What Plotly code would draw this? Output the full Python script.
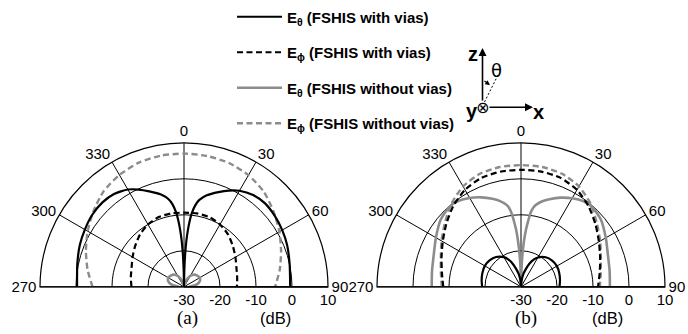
import plotly.graph_objects as go

W, H = 688, 334

# ---------------- pattern data (angle in deg, level in dB) ----------------
# (a) panel
theta_a_eth_v = [-90, -78, -68, -60, -52, -44, -37, -30, -25, -20, -14, -10, -8, -6, -5, -4, -3, -2, -1,
                 0, 1, 2, 3, 4, 5, 6, 8, 10, 14, 20, 25, 30, 37, 44, 52, 60, 68, 78, 90]
db_a_eth_v = [-0.3, 0.3, 1.2, 1.8, 2.4, 2.6, 2.3, 1.2, -0.2, -1.8, -3.6, -5.3, -6.8, -9.3, -11.3, -13.8, -16.8, -20.8, -25.8,
              -30, -26, -21, -17, -14, -11.5, -9.5, -7, -5.5, -3.8, -2.0, -0.5, 0.8, 1.9, 2.3, 2.0, 1.5, 0.9, 0.0, -0.5]

theta_a_eph_v = [-90, -80, -70, -60, -50, -40, -30, -20, -10, 0, 10, 20, 30, 40, 50, 60, 70, 80, 90]
db_a_eph_v = [-15.4, -15.0, -14.5, -13.5, -12.3, -11.0, -10.0, -9.4, -9.3, -9.4,
              -9.3, -9.4, -10.0, -11.0, -12.3, -13.5, -14.5, -15.0, -15.3]

theta_a_eth_nv = [-90, -80, -70, -60, -50, -40, -30, -20, -10, 0, 10, 20, 30, 40, 50, 60, 70, 80, 90]
db_a_eth_nv = [-28.5, -26.5, -25.3, -25.0, -25.2, -25.6, -26.5, -28.0, -30, -30,
               -30, -28.0, -26.5, -25.6, -25.2, -25.0, -25.3, -26.5, -28.5]

theta_a_eph_nv = [-90, -80, -70, -60, -50, -40, -30, -20, -10, 0, 10, 20, 30, 40, 50, 60, 70, 80, 90]
db_a_eph_nv = [-4.6, -2.8, -1.0, 0.9, 2.8, 4.7, 5.9, 6.7, 7.0, 7.0,
               6.9, 6.6, 5.8, 4.5, 2.5, 0.6, -1.3, -3.0, -4.7]

# (b) panel
theta_b_eth_v = [-90, -80, -70, -60, -50, -40, -30, -25, -20, -15, -10, -5, 0,
                 5, 10, 15, 20, 25, 30, 40, 50, 60, 70, 80, 90]
db_b_eth_v = [-19.2, -18.9, -18.6, -18.4, -18.6, -19.2, -20.5, -21.6, -23.1, -24.9, -26.4, -28.4, -30,
              -28.5, -26.5, -25.0, -23.2, -21.7, -20.6, -19.3, -18.7, -18.5, -18.7, -19.0, -19.3]

theta_b_eth_nv = [-90, -80, -70, -60, -50, -42, -36, -30, -24, -18, -14, -10, -8, -7, -6, -5, -4, -3, -2, -1,
                  0, 1, 2, 3, 4, 5, 6, 7, 8, 10, 14, 18, 24, 30, 36, 42, 50, 60, 70, 80, 90]
db_b_eth_nv = [-5.2, -4.9, -4.2, -2.7, -0.9, -0.2, -0.5, -1.5, -2.8, -4.3, -5.4, -6.9, -8.4, -9.9, -11.9, -13.9, -16.4, -19.4, -22.9, -26.9,
               -30, -27, -23, -19.5, -16.5, -14, -12, -10, -8.5, -7, -5.5, -4.4, -2.9, -1.6, -0.6, -0.3, -1.0, -2.8, -4.3, -5.0, -5.3]

theta_b_eph_v = [-90, -80, -70, -60, -50, -40, -30, -20, -10, 0, 10, 20, 30, 40, 50, 60, 70, 80, 90]
db_b_eph_v = [-8.4, -7.7, -6.5, -4.9, -2.9, -0.7, 1.1, 2.2, 2.5, 2.5,
              2.5, 2.2, 1.1, -0.8, -3.0, -5.0, -6.6, -7.8, -8.6]

theta_b_eph_nv = [-90, -80, -70, -60, -50, -40, -30, -20, -10, 0, 10, 20, 30, 40, 50, 60, 70, 80, 90]
db_b_eph_nv = [-8.0, -7.4, -6.3, -4.5, -2.4, 0.1, 2.2, 3.4, 3.8, 3.8,
               3.8, 3.4, 2.2, 0.1, -2.5, -4.6, -6.4, -7.5, -8.1]

radial_ticks = [-30, -20, -10, 0, 10]
radial_text = ["-30", "-20", "-10", "0", "10"]
angle_ticks = [-90, -60, -30, 0, 30, 60, 90]
angle_text = ["270", "300", "330", "0", "30", "60", "90"]

legend_names = ["E<sub>θ</sub> (FSHIS with vias)",
                "E<sub>ϕ</sub> (FSHIS with vias)",
                "E<sub>θ</sub> (FSHIS without vias)",
                "E<sub>ϕ</sub> (FSHIS without vias)"]

BLACK = "#000000"
GREY = "#8c8c8c"
DASH = "6px,3.5px"
styles = [dict(color=BLACK, width=2.2, dash="solid"),
          dict(color=BLACK, width=2.2, dash=DASH),
          dict(color=GREY, width=2.6, dash="solid"),
          dict(color=GREY, width=2.4, dash=DASH)]

panels = {
    "polar": [(theta_a_eth_v, db_a_eth_v), (theta_a_eph_v, db_a_eph_v),
              (theta_a_eth_nv, db_a_eth_nv), (theta_a_eph_nv, db_a_eph_nv)],
    "polar2": [(theta_b_eth_v, db_b_eth_v), (theta_b_eph_v, db_b_eph_v),
               (theta_b_eth_nv, db_b_eth_nv), (theta_b_eph_nv, db_b_eph_nv)],
}

fig = go.Figure()
# draw order: grey curves beneath black ones
order = [3, 2, 1, 0]
for sub, series in panels.items():
    for k in order:
        th, r = series[k]
        fig.add_trace(go.Scatterpolar(
            r=r, theta=th, mode="lines", subplot=sub,
            line=dict(color=styles[k]["color"], width=styles[k]["width"],
                      dash=styles[k]["dash"], shape="spline", smoothing=0.6),
            name=legend_names[k], legendgroup=f"g{k}", legendrank=k + 1,
            showlegend=(sub == "polar"), hoverinfo="skip"))

# ---------------- layout ----------------
R = 144.0
BASE_Y = 286.8
centers = {"polar": 184.0, "polar2": 521.0}
FONT = "Liberation Sans, Arial, sans-serif"


def polar_layout(cx):
    dom_x = [(cx - R) / W, (cx + R) / W]
    dom_y = [(H - BASE_Y) / H, (H - BASE_Y + R) / H]
    return dict(
        domain=dict(x=dom_x, y=dom_y),
        sector=[0, 180],
        bgcolor="white",
        angularaxis=dict(rotation=90, direction="clockwise",
                         tickmode="array", tickvals=angle_ticks, ticktext=angle_text,
                         showline=True, linecolor=BLACK, linewidth=1.2,
                         showgrid=True, gridcolor=BLACK, gridwidth=1,
                         ticks="", tickfont=dict(family=FONT, size=15, color=BLACK)),
        radialaxis=dict(range=[-30, 10], angle=0, side="clockwise",
                        tickmode="array", tickvals=radial_ticks, ticktext=radial_text,
                        showline=True, linecolor=BLACK, linewidth=1.2,
                        showgrid=True, gridcolor=BLACK, gridwidth=1,
                        ticks="", tickfont=dict(family=FONT, size=15, color=BLACK)),
    )


def px(x):
    return x / W


def py(y):
    return 1 - y / H


SERIF = "Liberation Serif, Times New Roman, serif"
annotations = [
    dict(x=px(187), y=py(318), text="(a)", font=dict(family=SERIF, size=19)),
    dict(x=px(526), y=py(318), text="(b)", font=dict(family=SERIF, size=19)),
    dict(x=px(275), y=py(318), text="(dB)", font=dict(family=FONT, size=16.5)),
    dict(x=px(607), y=py(318), text="(dB)", font=dict(family=FONT, size=16.5)),
    # coordinate sketch
    dict(x=px(482.5), y=py(48), ax=0, ay=54, text="", showarrow=True,
         arrowhead=2, arrowsize=1, arrowwidth=1.6, arrowcolor=BLACK),
    dict(x=px(533), y=py(107.3), ax=-45, ay=0, text="", showarrow=True,
         arrowhead=2, arrowsize=1, arrowwidth=1.6, arrowcolor=BLACK),
    dict(x=px(490), y=py(85), ax=-7, ay=-5, text="", showarrow=True,
         arrowhead=2, arrowsize=0.8, arrowwidth=1.2, arrowcolor=BLACK),
    dict(x=px(473.5), y=py(54), text="<b>z</b>", font=dict(family=FONT, size=20)),
    dict(x=px(471.5), y=py(111), text="<b>y</b>", font=dict(family=FONT, size=20)),
    dict(x=px(538), y=py(112), text="<b>x</b>", font=dict(family=FONT, size=20)),
    dict(x=px(497), y=py(70), text="θ", font=dict(family="DejaVu Sans, sans-serif", size=18)),
    dict(x=px(482.5), y=py(107), text="⊗", font=dict(family="DejaVu Sans, sans-serif", size=16)),
]
for a in annotations:
    a.setdefault("showarrow", False)
    a["xref"] = "paper"
    a["yref"] = "paper"
    a["xanchor"] = "center"
    a["yanchor"] = "middle"
    if a.get("showarrow"):
        a["axref"] = "pixel"
        a["ayref"] = "pixel"
    a.setdefault("font", {})
    a["font"].setdefault("color", BLACK)

shapes = [
    dict(type="line", xref="paper", yref="paper", x0=px(484.5), y0=py(102), x1=px(498), y1=py(75),
         line=dict(color=BLACK, width=1, dash="2px,2px")),
]

fig.update_layout(
    width=W, height=H, margin=dict(l=0, r=0, t=0, b=0),
    paper_bgcolor="white", plot_bgcolor="white",
    polar=polar_layout(centers["polar"]),
    polar2=polar_layout(centers["polar2"]),
    showlegend=True,
    legend=dict(x=px(232), y=py(0.5), xanchor="left", yanchor="top",
                traceorder="grouped", tracegroupgap=13, itemwidth=45,
                bgcolor="rgba(0,0,0,0)", borderwidth=0,
                font=dict(family=FONT, size=15, color=BLACK, weight="bold")),
    annotations=annotations,
    shapes=shapes,
)

fig.write_html("out.html")
